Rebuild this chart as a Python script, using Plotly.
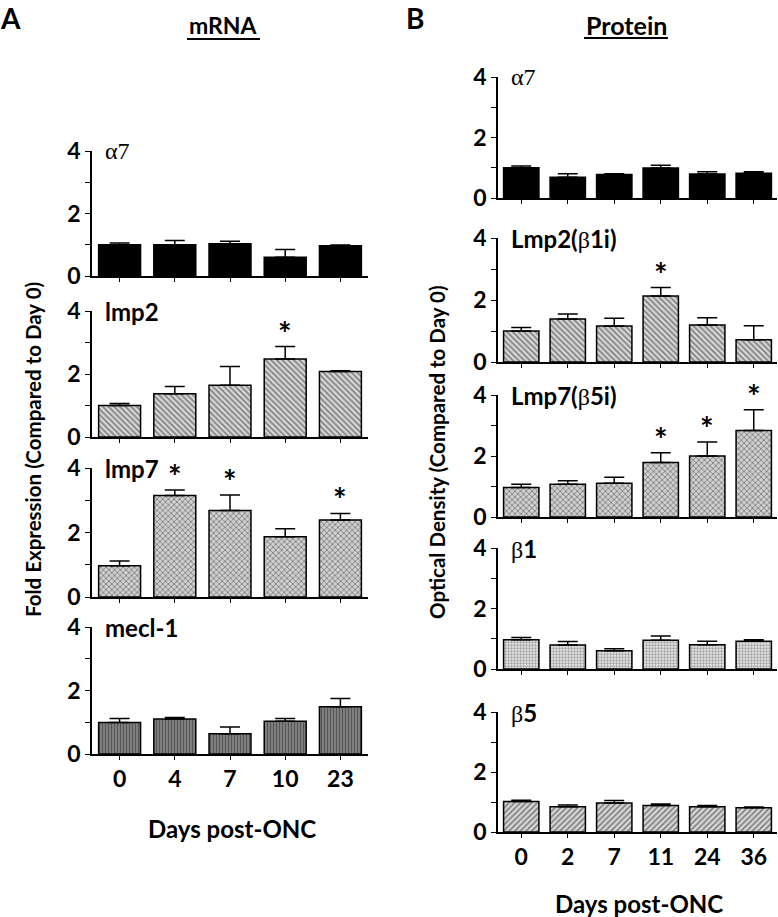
import plotly.graph_objects as go

W, H = 778, 917

# ---------------- Data ----------------
# Panel A: mRNA (fold expression vs day 0)
days_A = ["0", "4", "7", "10", "23"]
a_alpha7 = [1.0, 1.0, 1.03, 0.6, 0.97]
a_alpha7_err = [0.06, 0.14, 0.08, 0.25, 0.02]
a_alpha7_sig = [0, 0, 0, 0, 0]
a_lmp2 = [1.0, 1.37, 1.64, 2.48, 2.08]
a_lmp2_err = [0.06, 0.23, 0.6, 0.39, 0.02]
a_lmp2_sig = [0, 0, 0, 1, 0]
a_lmp7 = [0.97, 3.15, 2.68, 1.87, 2.39]
a_lmp7_err = [0.15, 0.17, 0.48, 0.25, 0.2]
a_lmp7_sig = [0, 1, 1, 0, 1]
a_mecl1 = [0.99, 1.1, 0.64, 1.03, 1.49]
a_mecl1_err = [0.13, 0.05, 0.21, 0.09, 0.26]
a_mecl1_sig = [0, 0, 0, 0, 0]

# Panel B: protein (optical density vs day 0)
days_B = ["0", "2", "7", "11", "24", "36"]
b_alpha7 = [1.0, 0.69, 0.78, 0.99, 0.79, 0.82]
b_alpha7_err = [0.06, 0.11, 0.02, 0.09, 0.08, 0.05]
b_alpha7_sig = [0, 0, 0, 0, 0, 0]
b_lmp2 = [1.0, 1.39, 1.16, 2.13, 1.19, 0.72]
b_lmp2_err = [0.11, 0.16, 0.25, 0.27, 0.24, 0.45]
b_lmp2_sig = [0, 0, 0, 1, 0, 0]
b_lmp7 = [0.97, 1.07, 1.11, 1.79, 2.0, 2.84]
b_lmp7_err = [0.1, 0.12, 0.19, 0.32, 0.46, 0.68]
b_lmp7_sig = [0, 0, 0, 1, 1, 1]
b_beta1 = [0.97, 0.79, 0.6, 0.95, 0.8, 0.92]
b_beta1_err = [0.07, 0.12, 0.07, 0.14, 0.12, 0.05]
b_beta1_sig = [0, 0, 0, 0, 0, 0]
b_beta5 = [1.02, 0.84, 0.97, 0.88, 0.84, 0.81]
b_beta5_err = [0.04, 0.06, 0.08, 0.05, 0.04, 0.02]
b_beta5_sig = [0, 0, 0, 0, 0, 0]

y_tickvals = [0, 1, 2, 3, 4]
y_ticktext = ["0", "", "2", "", "4"]

SERIF = "Liberation Serif"
SANS = "Lato"


def greek(s, size=None):
    sz = f";font-size:{size}px" if size else ""
    return f'<span style="font-family:{SERIF};font-weight:normal{sz}">{s}</span>'


# label, days, values, errors, significance, pattern, colour, x-domain px, (y0 px, y4 px), bottom?
panels = [
    (greek("α7", 24), days_A, a_alpha7, a_alpha7_err, a_alpha7_sig,
     dict(shape="", fillmode="replace"), "black", (92, 368), (276, 151), False),
    ("lmp2", days_A, a_lmp2, a_lmp2_err, a_lmp2_sig,
     dict(shape="\\", fgcolor="#2a2a2a", bgcolor="#d8d8d8", size=4, solidity=0.45), "#d8d8d8", (92, 368), (437, 311), False),
    ("lmp7", days_A, a_lmp7, a_lmp7_err, a_lmp7_sig,
     dict(shape="x", fgcolor="#333333", bgcolor="#cfcfcf", size=4, solidity=0.4), "#cfcfcf", (92, 368), (597, 468), False),
    ("mecl-1", days_A, a_mecl1, a_mecl1_err, a_mecl1_sig,
     dict(shape="|", fgcolor="#222222", bgcolor="#8a8a8a", size=3, solidity=0.5), "#8a8a8a", (92, 368), (754, 627), True),
    (greek("α7", 24), days_B, b_alpha7, b_alpha7_err, b_alpha7_sig,
     dict(shape="", fillmode="replace"), "black", (498, 777), (198, 77), False),
    ("Lmp2(" + greek("β") + "1i)", days_B, b_lmp2, b_lmp2_err, b_lmp2_sig,
     dict(shape="\\", fgcolor="#2a2a2a", bgcolor="#d8d8d8", size=4, solidity=0.45), "#d8d8d8", (498, 777), (362, 238), False),
    ("Lmp7(" + greek("β") + "5i)", days_B, b_lmp7, b_lmp7_err, b_lmp7_sig,
     dict(shape="x", fgcolor="#333333", bgcolor="#cfcfcf", size=4, solidity=0.4), "#cfcfcf", (498, 777), (517, 395), False),
    (greek("β") + "1", days_B, b_beta1, b_beta1_err, b_beta1_sig,
     dict(shape=".", fgcolor="#555555", bgcolor="#e6e6e6", size=3, solidity=0.45), "#e6e6e6", (498, 777), (669, 548), False),
    (greek("β") + "5", days_B, b_beta5, b_beta5_err, b_beta5_sig,
     dict(shape="/", fgcolor="#2a2a2a", bgcolor="#d8d8d8", size=4, solidity=0.45), "#d8d8d8", (498, 777), (832, 712), True),
]

fig = go.Figure()
annotations = []
layout_axes = {}

for i, (label, days, vals, errs, sig, pattern, color, xd, yd, bottom) in enumerate(panels):
    n = i + 1
    xa = "x" if n == 1 else f"x{n}"
    ya = "y" if n == 1 else f"y{n}"
    xkey = "xaxis" if n == 1 else f"xaxis{n}"
    ykey = "yaxis" if n == 1 else f"yaxis{n}"

    fig.add_trace(go.Bar(
        x=days, y=vals, xaxis=xa, yaxis=ya,
        width=0.76,
        marker=dict(color=color, pattern=pattern, line=dict(color="black", width=1.5)),
        error_y=dict(type="data", array=errs, arrayminus=[0] * len(errs), symmetric=False,
                     color="black", thickness=1.5, width=10),
        showlegend=False, hoverinfo="skip",
    ))

    layout_axes[xkey] = dict(
        domain=[xd[0] / W, xd[1] / W], anchor=ya,
        type="category", range=[-0.5, len(days) - 0.5],
        showline=True, linecolor="black", linewidth=1.5,
        ticks="outside", ticklen=4, tickwidth=1, tickcolor="black",
        showticklabels=bottom,
        tickfont=dict(family=SANS, size=23, color="black", weight="bold"),
        showgrid=False, zeroline=False, fixedrange=True, automargin=False,
    )
    layout_axes[ykey] = dict(
        domain=[1 - yd[0] / H, 1 - yd[1] / H], anchor=xa,
        range=[0, 4],
        tickvals=y_tickvals, ticktext=y_ticktext,
        showline=True, linecolor="black", linewidth=1.5,
        ticks="outside", ticklen=5, tickwidth=1, tickcolor="black",
        tickfont=dict(family=SANS, size=23, color="black", weight="bold"),
        showgrid=False, zeroline=False, fixedrange=True, automargin=False,
    )

    # subplot label
    annotations.append(dict(
        text=label, xref=f"{xa} domain", yref=ya, x=0, y=4, xshift=11,
        xanchor="left", yanchor="middle", showarrow=False,
        font=dict(family=SANS, size=24, color="black", weight="bold"),
    ))
    # significance asterisks (category index positions)
    for k, (v, e, s) in enumerate(zip(vals, errs, sig)):
        if s:
            annotations.append(dict(
                text="*", xref=xa, yref=ya, x=k, y=v + e, yanchor="bottom",
                showarrow=False, yshift=-8,
                font=dict(family=SANS, size=32, color="black", weight="bold"),
            ))

# Panel letters & titles
annotations += [
    dict(text="A", x=-1 / W, y=1, xref="paper", yref="paper", xanchor="left", yanchor="top",
         showarrow=False, borderpad=0, font=dict(family=SANS, size=28, color="black", weight="bold")),
    dict(text="B", x=405 / W, y=1, xref="paper", yref="paper", xanchor="left", yanchor="top",
         showarrow=False, borderpad=0, font=dict(family=SANS, size=28, color="black", weight="bold")),
    dict(text="mRNA", x=223 / W, y=1 - 25 / H, xref="paper", yref="paper", xanchor="center", yanchor="middle",
         showarrow=False, font=dict(family=SANS, size=23, color="black", weight="bold")),
    dict(text="Protein", x=626 / W, y=1 - 25 / H, xref="paper", yref="paper", xanchor="center", yanchor="middle",
         showarrow=False, font=dict(family=SANS, size=25, color="black", weight="bold")),
    dict(text="Fold Expression (Compared to Day 0)", x=33 / W, y=1 - 450 / H, xref="paper", yref="paper",
         xanchor="center", yanchor="middle", textangle=-90, showarrow=False,
         font=dict(family=SANS, size=20.5, color="black", weight="bold")),
    dict(text="Optical Density (Compared to Day 0)", x=437 / W, y=1 - 452 / H, xref="paper", yref="paper",
         xanchor="center", yanchor="middle", textangle=-90, showarrow=False,
         font=dict(family=SANS, size=20.5, color="black", weight="bold")),
    dict(text="Days post-ONC", x=232 / W, y=1 - 828 / H, xref="paper", yref="paper",
         xanchor="center", yanchor="middle", showarrow=False,
         font=dict(family=SANS, size=24, color="black", weight="bold")),
    dict(text="Days post-ONC", x=639 / W, y=1 - 903 / H, xref="paper", yref="paper",
         xanchor="center", yanchor="middle", showarrow=False,
         font=dict(family=SANS, size=24, color="black", weight="bold")),
]

shapes = [
    dict(type="line", xref="paper", yref="paper", x0=187 / W, x1=260 / W, y0=1 - 39 / H, y1=1 - 39 / H,
         line=dict(color="black", width=2)),
    dict(type="line", xref="paper", yref="paper", x0=584 / W, x1=668 / W, y0=1 - 38 / H, y1=1 - 38 / H,
         line=dict(color="black", width=2)),
]

fig.update_layout(
    width=W, height=H,
    margin=dict(l=0, r=0, t=0, b=0, autoexpand=False),
    paper_bgcolor="white", plot_bgcolor="white",
    annotations=annotations, shapes=shapes,
    font=dict(family=SANS, color="black"),
    **layout_axes,
)

fig.write_html(
    "out.html",
    config={"displayModeBar": False},
    post_script="document.body.style.margin='0';document.body.style.overflow='hidden';",
)
